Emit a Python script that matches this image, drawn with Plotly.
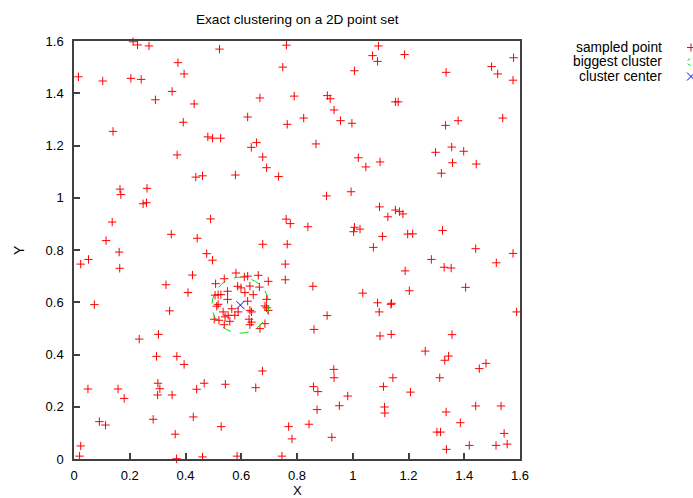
import plotly.graph_objects as go

# ---- data ----
px_x = [0.212, 0.228, 0.269, 0.522, 0.762, 0.373, 0.749, 0.016, 0.103, 0.204,
        0.241, 0.395, 0.352, 0.292, 0.431, 0.667, 0.790, 0.140, 0.392, 0.623,
        0.765, 0.480, 0.497, 0.526, 0.655, 0.636, 0.370, 0.677, 0.691, 0.437,
        0.461, 0.579, 0.734, 0.165, 0.168, 0.262, 0.248, 0.260, 0.137, 0.490,
        0.761, 0.776, 0.115, 0.349, 0.442, 0.677, 0.765,
        1.092, 1.071, 1.089, 1.186, 1.577, 1.498, 1.520, 1.006, 1.335, 1.575,
        0.909, 0.919, 1.153, 1.163, 0.933, 0.824, 0.956, 0.997, 1.538, 1.378,
        1.333, 0.868, 1.355, 1.297, 1.398, 1.020, 1.098, 1.047, 1.358, 1.443,
        1.318, 0.994, 0.906, 1.096, 1.153, 1.168, 1.180, 1.126, 0.839, 1.006,
        1.026, 1.003, 1.107, 1.197, 1.215, 1.322, 1.074, 1.441,
        0.162, 0.024, 0.052, 0.164, 0.476, 0.497, 0.758, 0.758, 0.425, 0.330,
        0.409, 0.073, 0.343, 0.234, 0.303, 0.296, 0.369, 0.395, 0.676, 0.050,
        0.158, 0.180, 0.301, 0.308, 0.300, 0.352, 0.440, 0.467, 0.543, 0.652,
        0.091, 0.113, 0.284, 0.428, 0.528, 0.770, 0.782, 0.363, 0.024, 0.020,
        0.368, 0.461, 0.585, 0.746,
        1.575, 1.282, 1.515, 1.328, 1.353, 1.188, 0.857, 1.036, 1.203, 1.405,
        1.089, 1.137, 1.139, 1.095, 1.588, 0.908, 0.861, 1.098, 1.138, 1.356,
        1.260, 1.330, 1.344, 1.454, 1.478, 0.932, 0.933, 1.144, 1.312, 0.859,
        0.875, 1.110, 1.207, 0.982, 0.952, 0.872, 1.114, 1.115, 1.335, 1.441,
        1.532, 1.386, 0.843, 0.925, 1.302, 1.315, 1.543, 1.418, 1.514, 1.554,
        1.336,
        0.581, 0.611, 0.623, 0.539, 0.661, 0.697, 0.508, 0.587, 0.599, 0.631,
        0.665, 0.517, 0.527, 0.506, 0.551, 0.613, 0.551, 0.643, 0.691, 0.517,
        0.512, 0.623, 0.685, 0.691, 0.697, 0.566, 0.631, 0.637, 0.535, 0.589,
        0.577, 0.553, 0.542, 0.503, 0.520, 0.628, 0.559, 0.637, 0.631, 0.539,
        0.685, 0.667]
px_y = [1.597, 1.585, 1.581, 1.569, 1.584, 1.517, 1.500, 1.463, 1.447, 1.457,
        1.453, 1.474, 1.407, 1.375, 1.359, 1.382, 1.389, 1.254, 1.289, 1.309,
        1.281, 1.233, 1.228, 1.228, 1.211, 1.193, 1.164, 1.156, 1.115, 1.079,
        1.084, 1.087, 1.081, 1.033, 1.012, 1.036, 0.977, 0.981, 0.907, 0.919,
        0.918, 0.901, 0.836, 0.860, 0.845, 0.822, 0.822,
        1.581, 1.544, 1.522, 1.548, 1.536, 1.502, 1.474, 1.486, 1.480, 1.450,
        1.391, 1.379, 1.367, 1.367, 1.336, 1.305, 1.295, 1.285, 1.305, 1.295,
        1.277, 1.206, 1.194, 1.174, 1.178, 1.153, 1.137, 1.118, 1.134, 1.129,
        1.094, 1.023, 1.007, 0.965, 0.953, 0.947, 0.938, 0.927, 0.889, 0.887,
        0.880, 0.870, 0.852, 0.861, 0.862, 0.875, 0.810, 0.805,
        0.792, 0.746, 0.764, 0.730, 0.786, 0.761, 0.746, 0.686, 0.704, 0.667,
        0.637, 0.591, 0.567, 0.459, 0.477, 0.393, 0.393, 0.362, 0.337, 0.268,
        0.268, 0.232, 0.290, 0.269, 0.245, 0.245, 0.267, 0.290, 0.286, 0.273,
        0.143, 0.130, 0.152, 0.161, 0.124, 0.124, 0.077, 0.095, 0.050, 0.011,
        0.001, 0.008, 0.011, 0.011,
        0.787, 0.764, 0.751, 0.734, 0.731, 0.720, 0.661, 0.635, 0.644, 0.657,
        0.598, 0.592, 0.596, 0.563, 0.563, 0.549, 0.496, 0.471, 0.477, 0.476,
        0.413, 0.378, 0.394, 0.346, 0.366, 0.343, 0.311, 0.311, 0.311, 0.277,
        0.258, 0.277, 0.256, 0.241, 0.204, 0.189, 0.199, 0.176, 0.180, 0.203,
        0.203, 0.139, 0.133, 0.083, 0.103, 0.103, 0.098, 0.052, 0.052, 0.057,
        0.037,
        0.712, 0.697, 0.700, 0.690, 0.703, 0.680, 0.671, 0.661, 0.655, 0.662,
        0.658, 0.629, 0.629, 0.627, 0.642, 0.637, 0.611, 0.629, 0.611, 0.592,
        0.585, 0.604, 0.586, 0.579, 0.569, 0.575, 0.569, 0.563, 0.563, 0.563,
        0.550, 0.550, 0.544, 0.535, 0.531, 0.535, 0.527, 0.524, 0.514, 0.514,
        0.518, 0.499]

cluster_center_x = [0.597]
cluster_center_y = [0.589]
cluster_radius_x = 0.102
cluster_radius_y = 0.107

x_ticks = [0, 0.2, 0.4, 0.6, 0.8, 1, 1.2, 1.4, 1.6]
y_ticks = [0, 0.2, 0.4, 0.6, 0.8, 1, 1.2, 1.4, 1.6]
x_tick_labels = ["0", "0.2", "0.4", "0.6", "0.8", "1", "1.2", "1.4", "1.6"]
y_tick_labels = ["0", "0.2", "0.4", "0.6", "0.8", "1", "1.2", "1.4", "1.6"]
legend_labels = ["sampled point", "biggest cluster", "cluster center"]

FONT = "Liberation Sans, Arial, Helvetica, sans-serif"
RED = "#ff0000"
GREEN = "#00dd00"
BLUE = "#0000ff"

fig = go.Figure()
fig.add_trace(go.Scatter(
    x=px_x, y=px_y, mode="markers", name=legend_labels[0], showlegend=False,
    marker=dict(symbol="cross-thin", size=6, color=RED,
                line=dict(color=RED, width=1)),
    cliponaxis=False,
))
fig.add_trace(go.Scatter(
    x=cluster_center_x, y=cluster_center_y, mode="markers", name=legend_labels[2],
    showlegend=False,
    marker=dict(symbol="x-thin", size=8, color=BLUE,
                line=dict(color=BLUE, width=1)),
))

shapes = [dict(
    type="circle", xref="x", yref="y",
    x0=cluster_center_x[0] - cluster_radius_x, x1=cluster_center_x[0] + cluster_radius_x,
    y0=cluster_center_y[0] - cluster_radius_y, y1=cluster_center_y[0] + cluster_radius_y,
    line=dict(color=GREEN, width=1, dash="dash"),
)]

# legend (gnuplot style: text right-aligned, sample to the right)
plot_l, plot_r, plot_t, plot_b = 74, 520, 41, 459
W, H = 693, 498
pw, ph = plot_r - plot_l, plot_b - plot_t

def paper_x(p):
    return (p - plot_l) / pw

def paper_y(p):
    return (plot_b - p) / ph

legend_rows = [47.5, 62, 76.5]
annotations = []
for lab, ry in zip(legend_labels, legend_rows):
    annotations.append(dict(
        text=lab, xref="paper", yref="paper", x=paper_x(664), y=paper_y(ry),
        xanchor="right", yanchor="middle", showarrow=False,
        font=dict(family=FONT, size=13.8, color="#000000"),
    ))

sx = paper_x(691)
# "+" sample
shapes.append(dict(type="line", xref="paper", yref="paper", xsizemode="pixel", ysizemode="pixel",
                   xanchor=sx, yanchor=paper_y(legend_rows[0]), x0=-4, x1=4, y0=0, y1=0,
                   line=dict(color=RED, width=1)))
shapes.append(dict(type="line", xref="paper", yref="paper", xsizemode="pixel", ysizemode="pixel",
                   xanchor=sx, yanchor=paper_y(legend_rows[0]), x0=0, x1=0, y0=-4, y1=4,
                   line=dict(color=RED, width=1)))
# circle sample
shapes.append(dict(type="circle", xref="paper", yref="paper", xsizemode="pixel", ysizemode="pixel",
                   xanchor=sx, yanchor=paper_y(legend_rows[1]), x0=-3.5, x1=3.5, y0=-3.5, y1=3.5,
                   line=dict(color=GREEN, width=1, dash="dot")))
# "x" sample
shapes.append(dict(type="line", xref="paper", yref="paper", xsizemode="pixel", ysizemode="pixel",
                   xanchor=sx, yanchor=paper_y(legend_rows[2]), x0=-4, x1=4, y0=-4, y1=4,
                   line=dict(color=BLUE, width=1)))
shapes.append(dict(type="line", xref="paper", yref="paper", xsizemode="pixel", ysizemode="pixel",
                   xanchor=sx, yanchor=paper_y(legend_rows[2]), x0=-4, x1=4, y0=4, y1=-4,
                   line=dict(color=BLUE, width=1)))

# title and axis titles
annotations.append(dict(text="Exact clustering on a 2D point set", xref="paper", yref="paper",
                        x=0.5, y=paper_y(20), xanchor="center", yanchor="middle",
                        showarrow=False, font=dict(family=FONT, size=13.6, color="#000000")))
annotations.append(dict(text="X", xref="paper", yref="paper",
                        x=0.5, y=paper_y(490.5), xanchor="center", yanchor="middle",
                        showarrow=False, font=dict(family=FONT, size=13, color="#000000")))
annotations.append(dict(text="Y", xref="paper", yref="paper", textangle=-90,
                        x=paper_x(19), y=paper_y(250), xanchor="center", yanchor="middle",
                        showarrow=False, font=dict(family=FONT, size=14, color="#000000")))

axis_common = dict(
    range=[0, 1.6], showgrid=False, zeroline=False, showline=True, mirror=True,
    linecolor="#404040", linewidth=1.5, ticks="inside", ticklen=6, tickwidth=1.5,
    tickcolor="#404040", tickfont=dict(family=FONT, size=13, color="#000000"),
    fixedrange=True, automargin=False,
)

fig.update_layout(
    width=W, height=H,
    margin=dict(l=plot_l, r=W - plot_r, t=plot_t, b=H - plot_b),
    paper_bgcolor="white", plot_bgcolor="white",
    showlegend=False,
    shapes=shapes, annotations=annotations,
    xaxis=dict(**axis_common, tickmode="array", tickvals=x_ticks, ticktext=x_tick_labels,
               ticklabelstandoff=4),
    yaxis=dict(**axis_common, tickmode="array", tickvals=y_ticks, ticktext=y_tick_labels,
               ticklabelstandoff=6),
)

fig.write_html("out.html")
